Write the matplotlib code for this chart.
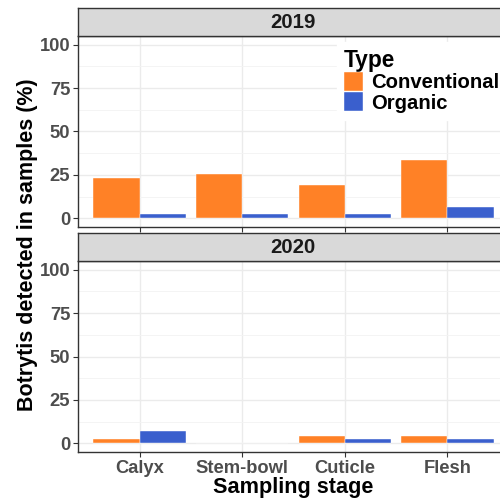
import matplotlib
matplotlib.use("Agg")
import matplotlib.pyplot as plt
import matplotlib.patches as mpatches
import numpy as np

plt.rcParams['font.family'] = ['Liberation Sans', 'DejaVu Sans']
plt.rcParams['font.weight'] = 'bold'

stages = ["Calyx", "Stem-bowl", "Cuticle", "Flesh"]
years = ["2019", "2020"]
types = ["Conventional", "Organic"]
colors = {"Conventional": "#FF8126", "Organic": "#3A5FCD"}

# % samples with Botrytis detected, per year and type
conv_2019 = [23.3, 25.4, 19.2, 33.6]
org_2019 = [2.3, 2.3, 2.3, 6.7]
conv_2020 = [2.3, 0, 4.2, 4.2]
org_2020 = [7.1, 0, 2.3, 2.3]

data = {
    "2019": {"Conventional": conv_2019, "Organic": org_2019},
    "2020": {"Conventional": conv_2020, "Organic": org_2020},
}

W, H = 500, 501
fig = plt.figure(figsize=(W / 100, H / 100), dpi=100)

def fx(px):
    return px / W

def fy(px):
    return 1 - px / H

left, right = 78, 509
panels = [(36, 227, 8), (261, 452, 233)]  # top, bottom, strip top (pixels)

x = np.arange(1, len(stages) + 1)
bw = 0.45
axes = []
for year, (ptop, pbot, stop) in zip(years, panels):
    ax = fig.add_axes([fx(left), fy(pbot), fx(right - left), (pbot - ptop) / H])
    for i, t in enumerate(types):
        offs = -bw / 2 if i == 0 else bw / 2
        ax.bar(x + offs, data[year][t], width=bw, color=colors[t],
               edgecolor="white", linewidth=0.3, zorder=3, label=t)
    ax.set_xlim(0.4, 4.6)
    ax.set_ylim(-5, 105)
    ax.set_yticks([0, 25, 50, 75, 100])
    ax.set_yticks([12.5, 37.5, 62.5, 87.5], minor=True)
    ax.set_xticks(x)
    ax.grid(True, which="major", color="#EBEBEB", linewidth=1.0, zorder=0)
    ax.grid(True, which="minor", axis="y", color="#F3F3F3", linewidth=0.6, zorder=0)
    ax.tick_params(axis="both", which="major", length=3.5, width=0.8, color="#333333",
                   labelsize=13.2, labelcolor="#4D4D4D", pad=2)
    ax.tick_params(axis="y", which="minor", length=0)
    for s in ax.spines.values():
        s.set_color("#333333")
        s.set_linewidth(1.0)
    if year == "2020":
        ax.set_xticklabels(stages)
    else:
        ax.set_xticklabels([])
    ax.set_axisbelow(True)

    # facet strip
    sax = fig.add_axes([fx(left), fy(ptop), fx(right - left), (ptop - stop) / H])
    sax.set_facecolor("#D9D9D9")
    sax.set_xticks([])
    sax.set_yticks([])
    for s in sax.spines.values():
        s.set_color("#333333")
        s.set_linewidth(1.0)
    sax.text(fx(293 - left) / fx(right - left), 0.48, year, transform=sax.transAxes,
             ha="center", va="center", fontsize=14.7, fontweight="bold", color="#1A1A1A")
    axes.append(ax)

handles = [mpatches.Patch(facecolor=colors[t], edgecolor="white", linewidth=0.3, label=t)
           for t in types]
leg = axes[0].legend(handles=handles, title="Type", loc="upper left",
                     bbox_to_anchor=((337 - left) / (right - left), 1 - 6 / 191),
                     frameon=True, fancybox=False, edgecolor="white", framealpha=1,
                     fontsize=14.6, title_fontproperties={"weight": "bold", "size": 16.3},
                     handlelength=0.95, handleheight=1.05, handletextpad=0.4,
                     labelspacing=0.0, borderpad=0.35, borderaxespad=0)
leg._legend_box.align = "left"

fig.text(fx(293), fy(487), "Sampling stage", ha="center", va="center",
         fontsize=15.6, fontweight="bold", color="black")
fig.text(fx(28), fy(244.5), "Botrytis detected in samples (%)", ha="center", va="center",
         rotation=90, fontsize=15.5, fontweight="bold", color="black")

fig.savefig("out.png", dpi=100)
